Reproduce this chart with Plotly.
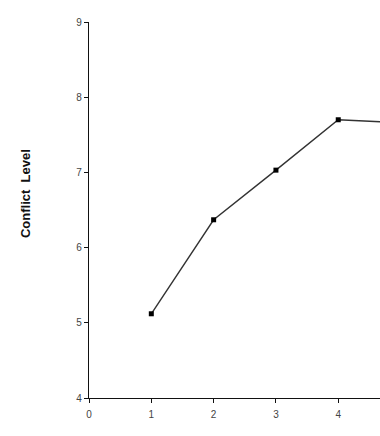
import plotly.graph_objects as go

x_vals = [1, 2, 3, 4, 5]
y_vals = [5.12, 6.37, 7.03, 7.70, 7.66]
x_ticks = [0, 1, 2, 3, 4, 5]
y_ticks = [4, 5, 6, 7, 8, 9]
y_title = "Conflict  Level"

fig = go.Figure()
fig.add_trace(go.Scatter(
    x=x_vals, y=y_vals, mode="lines+markers",
    line=dict(color="#333333", width=1.4),
    marker=dict(symbol="square", size=5, color="#000000"),
    showlegend=False,
))

axis_common = dict(
    showline=True, linecolor="#111111", linewidth=1.3,
    ticks="outside", ticklen=4, tickwidth=1.2, tickcolor="#111111",
    showgrid=False, zeroline=False,
    tickfont=dict(family="Liberation Sans, Arial", size=10, color="#444444"),
)

fig.update_layout(
    width=380, height=436,
    margin=dict(l=89, r=0, t=22, b=38),
    paper_bgcolor="white", plot_bgcolor="white",
    xaxis=dict(range=[0, 4.67], tickvals=x_ticks, ticklabelstandoff=3, **axis_common),
    yaxis=dict(range=[4, 9], tickvals=y_ticks, **axis_common),
    annotations=[dict(
        text=y_title, xref="paper", yref="paper",
        x=-0.22, y=0.545, xanchor="center", yanchor="middle",
        textangle=-90, showarrow=False,
        font=dict(family="Liberation Sans, Arial", size=13, color="#111111", weight="bold"),
    )],
)

fig.write_html("out.html")
